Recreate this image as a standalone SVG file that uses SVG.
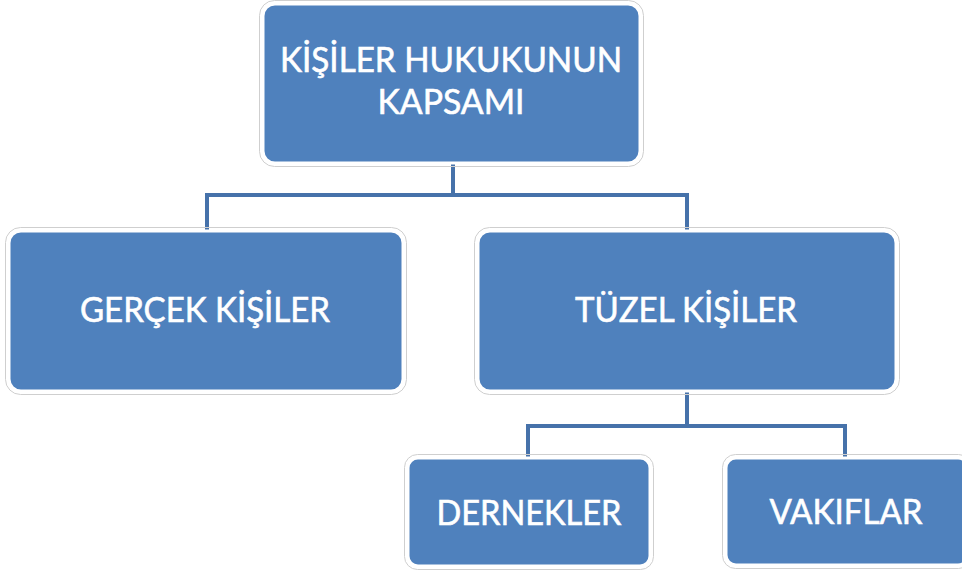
<svg xmlns="http://www.w3.org/2000/svg" width="962" height="570" viewBox="0 0 962 570">
<style>
.rim{fill:none;stroke:#cfcfcf;stroke-width:1}
.box{fill:#4F81BD;stroke:#ffffff;stroke-width:3}
.lbl{font-family:Lato,"Open Sans","Liberation Sans",sans-serif;font-size:35px;fill:#ffffff;stroke:#ffffff;stroke-width:0.6;text-anchor:middle}
.conn{fill:none;stroke:#4672AA;stroke-width:4;stroke-linejoin:miter}
</style>
<rect width="962" height="570" fill="#ffffff"/>
<g id="connectors">
<path class="conn" d="M453 162 V195 M207 231 V195 H687 V231"/>
<path class="conn" d="M687 391 V426 M528 457 V426 H845 V457"/>
</g>
<g id="n-root">
<rect class="rim" x="259.5" y="0.5" width="384" height="166" rx="15"/>
<rect class="box" x="263" y="4" width="377" height="159" rx="12"/>
<text class="lbl" x="451" y="72" textLength="342" lengthAdjust="spacingAndGlyphs">KİŞİLER HUKUKUNUN</text>
<text class="lbl" x="451" y="114" textLength="147" lengthAdjust="spacingAndGlyphs">KAPSAMI</text>
</g>
<g id="n-gercek">
<rect class="rim" x="5.5" y="227.5" width="401" height="167" rx="15"/>
<rect class="box" x="9" y="231" width="394" height="160" rx="12"/>
<text class="lbl" x="205" y="322" textLength="250" lengthAdjust="spacingAndGlyphs">GERÇEK KİŞİLER</text>
</g>
<g id="n-tuzel">
<rect class="rim" x="474.5" y="227.5" width="425" height="167" rx="15"/>
<rect class="box" x="478" y="231" width="418" height="160" rx="12"/>
<text class="lbl" x="686" y="322" textLength="222" lengthAdjust="spacingAndGlyphs">TÜZEL KİŞİLER</text>
</g>
<g id="n-dernekler">
<rect class="rim" x="404.5" y="454.5" width="249" height="115" rx="13"/>
<rect class="box" x="408" y="458" width="242" height="108" rx="10"/>
<text class="lbl" x="529" y="525" textLength="185" lengthAdjust="spacingAndGlyphs">DERNEKLER</text>
</g>
<g id="n-vakiflar">
<rect class="rim" x="722.5" y="454.5" width="249" height="114" rx="13"/>
<rect class="box" x="726" y="458" width="242" height="107" rx="10"/>
<text class="lbl" x="846" y="524" textLength="153" lengthAdjust="spacingAndGlyphs">VAKIFLAR</text>
</g>
</svg>
